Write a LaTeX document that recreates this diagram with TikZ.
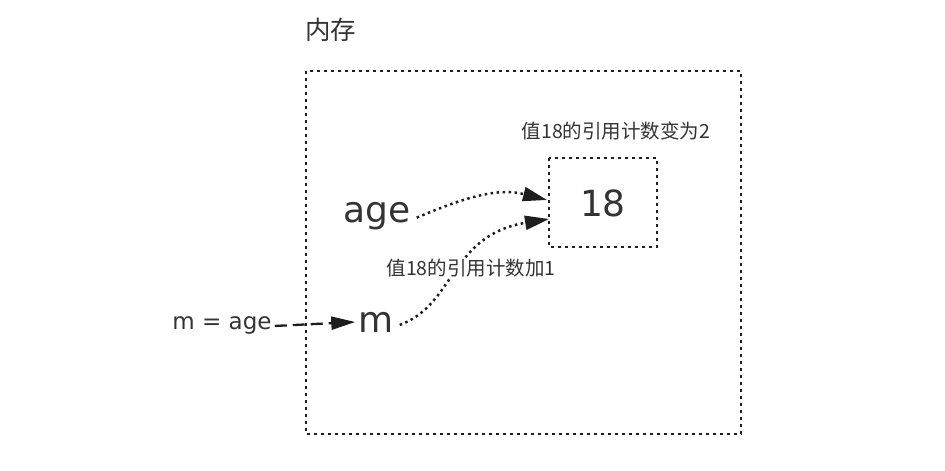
\documentclass[tikz,border=0pt]{standalone}
\usepackage{fontspec}
\setmainfont{DejaVu Sans}
\newfontfamily\cjk{Noto Sans CJK SC}
\usetikzlibrary{arrows.meta}
\definecolor{txt}{HTML}{333333}
\definecolor{ln}{HTML}{1E1E1E}
\tikzset{
  dotline/.style={draw=ln, line width=2.7pt, dash pattern=on 2.7pt off 4.3pt},
  dotarrow/.style={draw=ln, line width=2.5pt, dash pattern=on 2.5pt off 3.5pt, -{Triangle[length=24pt,width=14pt]}},
  dasharrow/.style={draw=ln, line width=2.3pt, dash pattern=on 12pt off 6pt, -{Triangle[length=24pt,width=13pt]}},
  bigtext/.style={text=txt, font=\fontsize{36}{40}\selectfont, inner sep=0pt},
  labeltext/.style={text=txt, font=\cjk\fontsize{19.5}{22}\selectfont, inner sep=1pt},
}
\begin{document}
\begin{tikzpicture}[x=1pt,y=-1pt]
\useasboundingbox (0,0) rectangle (945,471);
% memory box
\draw[dotline] (306,71) rectangle (741,434);
\node[text=txt, font=\cjk\fontsize{25.5}{28}\selectfont, anchor=west, inner sep=0pt] (mem) at (305,30) {内存};
% value box
\draw[dotline] (549,158) rectangle (657,247);
\node[bigtext] (v) at (603,203) {18};
\coordinate (vt) at (547,200);
\coordinate (vb) at (549,219);
\node[labeltext] (lab2) at (616,131) {值18的引用计数变为2};
% names
\node[bigtext, anchor=base] (age) at (377,222) {age};
\node[bigtext, anchor=base] (m) at (376,332) {m};
\node[text=txt, font=\fontsize{23}{26}\selectfont, anchor=base, inner sep=0pt] (assign) at (222,329) {m = age};
% arrows
\draw[dotarrow] ([xshift=6pt,yshift=-2pt]age.east) .. controls (470,195) and (500,188) .. (vt);
\draw[dotarrow] ([xshift=6pt,yshift=-3pt]m.east) .. controls (455,305) and (450,235) .. (vb);
\node[labeltext, fill=white] (lab1) at (471,268) {值18的引用计数加1};
\draw[dasharrow] ([xshift=3pt,yshift=-1pt]assign.east) -- ([xshift=-3pt]m.west |- 0,322);
\end{tikzpicture}
\end{document}
